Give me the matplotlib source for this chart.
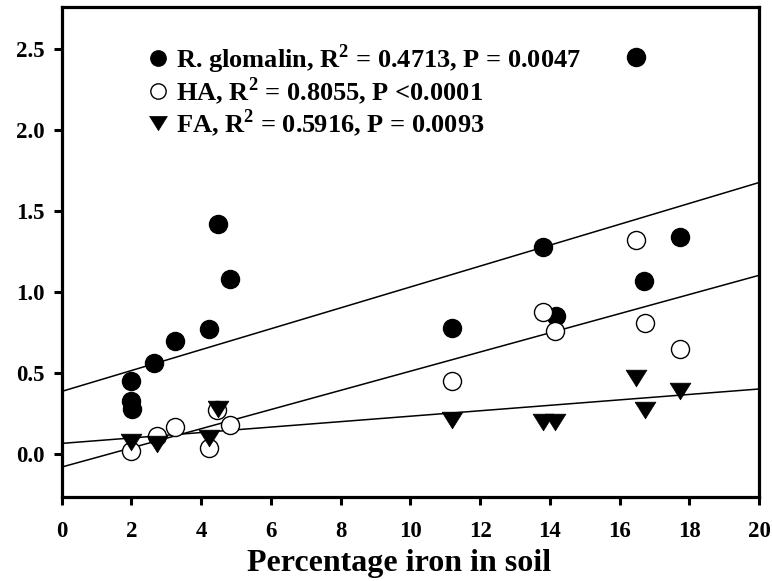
import matplotlib
matplotlib.use("Agg")
import matplotlib.pyplot as plt
import numpy as np

# Percentage iron in soil vs. extracted fraction
glomalin_x = [2.0, 2.0, 2.03, 2.64, 3.25, 4.23, 4.48, 4.84, 11.18, 13.80, 14.18, 16.48, 16.71, 17.72]
glomalin_y = [0.45, 0.325, 0.28, 0.56, 0.70, 0.77, 1.42, 1.08, 0.78, 1.28, 0.85, 2.45, 1.07, 1.34]

ha_x = [2.0, 2.74, 3.25, 4.23, 4.45, 4.84, 11.18, 13.80, 14.16, 16.48, 16.72, 17.73]
ha_y = [0.02, 0.11, 0.17, 0.035, 0.27, 0.18, 0.45, 0.88, 0.76, 1.32, 0.81, 0.65]

fa_x = [2.0, 2.74, 4.23, 4.48, 11.18, 13.80, 14.16, 16.48, 16.72, 17.73]
fa_y = [0.075, 0.06, 0.10, 0.28, 0.21, 0.20, 0.20, 0.47, 0.27, 0.39]

# fitted lines: intercept, slope
glomalin_fit = [0.387, 0.0645]
ha_fit = [-0.080, 0.0592]
fa_fit = [0.066, 0.0168]

labels = [
    r"R. glomalin, R$^{\mathbf{2}}$ = 0.4713, P = 0.0047",
    r"HA, R$^{\mathbf{2}}$ = 0.8055, P <0.0001",
    r"FA, R$^{\mathbf{2}}$ = 0.5916, P = 0.0093",
]

x_ticks = [0, 2, 4, 6, 8, 10, 12, 14, 16, 18, 20]
y_ticks = [0.0, 0.5, 1.0, 1.5, 2.0, 2.5]

# wide, flat downward triangle
tri_down = [(-1.0, 0.8), (1.0, 0.8), (0.0, -0.8), (-1.0, 0.8)]


def draw_fit(ax, fit):
    xs = np.array([0, 20])
    ax.plot(xs, fit[0] + fit[1] * xs, color="black", lw=1.1, zorder=2)


def main():
    plt.rcParams["font.family"] = ["Liberation Serif", "DejaVu Serif"]
    plt.rcParams["font.weight"] = "bold"
    plt.rcParams["mathtext.fontset"] = "custom"
    plt.rcParams["mathtext.rm"] = "Liberation Serif:bold"
    plt.rcParams["mathtext.bf"] = "Liberation Serif:bold"

    fig = plt.figure(figsize=(7.72, 5.81), dpi=100)
    ax = fig.add_axes([0.0799, 0.1454, 0.9033, 0.842])

    draw_fit(ax, glomalin_fit)
    draw_fit(ax, ha_fit)
    draw_fit(ax, fa_fit)

    ax.plot(glomalin_x, glomalin_y, "o", ms=13, mfc="black", mec="black", mew=1,
            ls="none", zorder=3, label=labels[0])
    ax.plot(ha_x, ha_y, "o", ms=13, mfc="white", mec="black", mew=1,
            ls="none", zorder=3, label=labels[1])
    ax.plot(fa_x, fa_y, marker=tri_down, ms=15, mfc="black", mec="black", mew=0.5,
            ls="none", zorder=3, label=labels[2])

    ax.set_xlim(0, 20)
    ax.set_ylim(-0.262, 2.759)
    ax.set_xticks(x_ticks)
    ax.set_yticks(y_ticks)
    ax.set_xticklabels([str(t) for t in x_ticks])
    ax.set_yticklabels([f"{t:.1f}" for t in y_ticks])

    for side in ["left", "right", "top", "bottom"]:
        ax.spines[side].set_linewidth(2.3)
    ax.tick_params(axis="both", direction="out", length=5.5, width=2.2, labelsize=16.5)
    ax.tick_params(axis="x", pad=12)
    ax.tick_params(axis="y", pad=7)
    for lbl in ax.get_xticklabels() + ax.get_yticklabels():
        lbl.set_fontweight("bold")

    ax.set_xlabel("Percentage iron in soil", fontsize=23, fontweight="bold", labelpad=5)
    ax.xaxis.label.set_x(0.4845)

    ax.legend(loc="upper left", bbox_to_anchor=(0.1266, 0.929), frameon=False,
              prop={"size": 19, "weight": "bold"}, markerscale=0.85,
              handlelength=0.6, handletextpad=0.4, labelspacing=-0.02,
              borderaxespad=0, borderpad=0)

    fig.savefig("out.png", dpi=100)


if __name__ == "__main__":
    main()
